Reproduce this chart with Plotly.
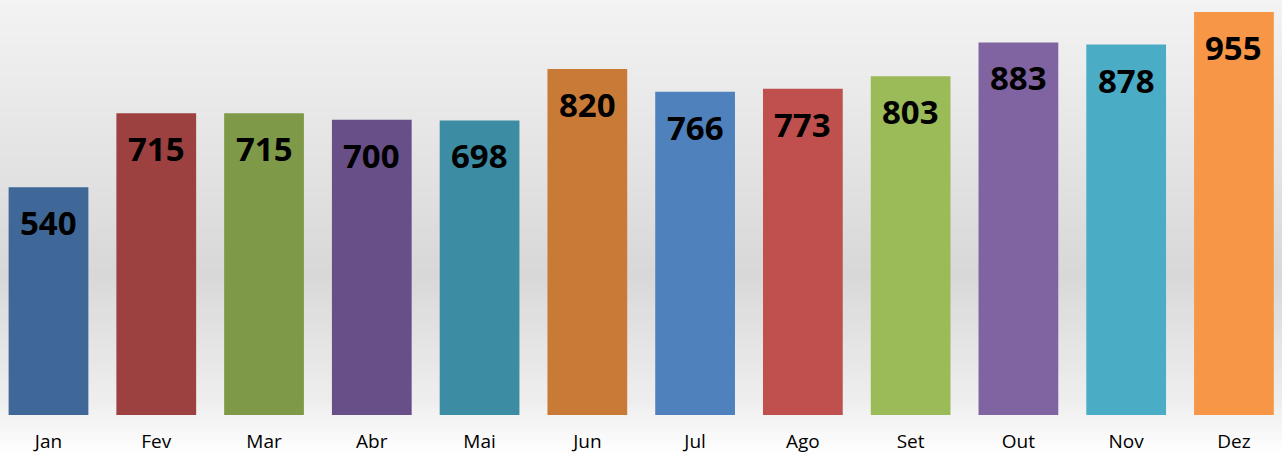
import plotly.graph_objects as go

months = ["Jan", "Fev", "Mar", "Abr", "Mai", "Jun", "Jul", "Ago", "Set", "Out", "Nov", "Dez"]
values = [540, 715, 715, 700, 698, 820, 766, 773, 803, 883, 878, 955]
colors = ["#3F6797", "#9C413F", "#7E9A48", "#684F88", "#3C8CA3", "#C97A37",
          "#4F81BD", "#C0504D", "#9BBB59", "#8064A2", "#4BACC6", "#F79646"]

fig = go.Figure()
fig.add_trace(go.Bar(x=months, y=values, marker=dict(color=colors, line=dict(width=0)),
                     width=0.74, hoverinfo="x+y"))

for m, v in zip(months, values):
    fig.add_annotation(x=m, y=v, text=f"<b>{v}</b>", showarrow=False, yanchor="top",
                       yshift=-11, font=dict(family="Open Sans", size=33, color="#000000"))

# background gradient (top light gray -> mid darker gray -> bottom white)
def lerp(c1, c2, t):
    return tuple(int(round(a + (b - a) * t)) for a, b in zip(c1, c2))

stops = [(0.0, (243, 243, 243)), (0.6, (216, 216, 216)), (0.88, (238, 238, 238)), (1.0, (255, 255, 255))]
N = 90
H = 455.0
shapes = []
for i in range(N):
    t = (i + 0.5) / N
    for j in range(len(stops) - 1):
        if stops[j][0] <= t <= stops[j + 1][0]:
            tt = (t - stops[j][0]) / (stops[j + 1][0] - stops[j][0])
            c = lerp(stops[j][1], stops[j + 1][1], tt)
            break
    ytop_px = i * H / N
    ybot_px = (i + 1) * H / N + 1.5
    y1 = 1 - ytop_px / 415.0
    y0 = 1 - ybot_px / 415.0
    shapes.append(dict(type="rect", xref="paper", yref="paper", x0=-0.01, x1=1.01,
                       y0=y0, y1=y1, fillcolor=f"rgb{c}", line=dict(width=0), layer="below"))

fig.update_layout(
    width=1282, height=455,
    margin=dict(l=0, r=0, t=0, b=40, autoexpand=False),
    paper_bgcolor="#ffffff",
    plot_bgcolor="rgba(0,0,0,0)",
    showlegend=False,
    shapes=shapes,
    xaxis=dict(range=[-0.45, 11.446], showgrid=False, zeroline=False, showline=False,
               ticks="", ticklabelstandoff=13, automargin=False,
               tickfont=dict(family="Open Sans", size=19, color="#000000")),
    yaxis=dict(range=[0, 983.5], visible=False, showgrid=False, zeroline=False, automargin=False),
)

fig.write_html("out.html", config={"displayModeBar": False},
               post_script="document.body.style.margin='0';document.body.style.overflow='hidden';")
